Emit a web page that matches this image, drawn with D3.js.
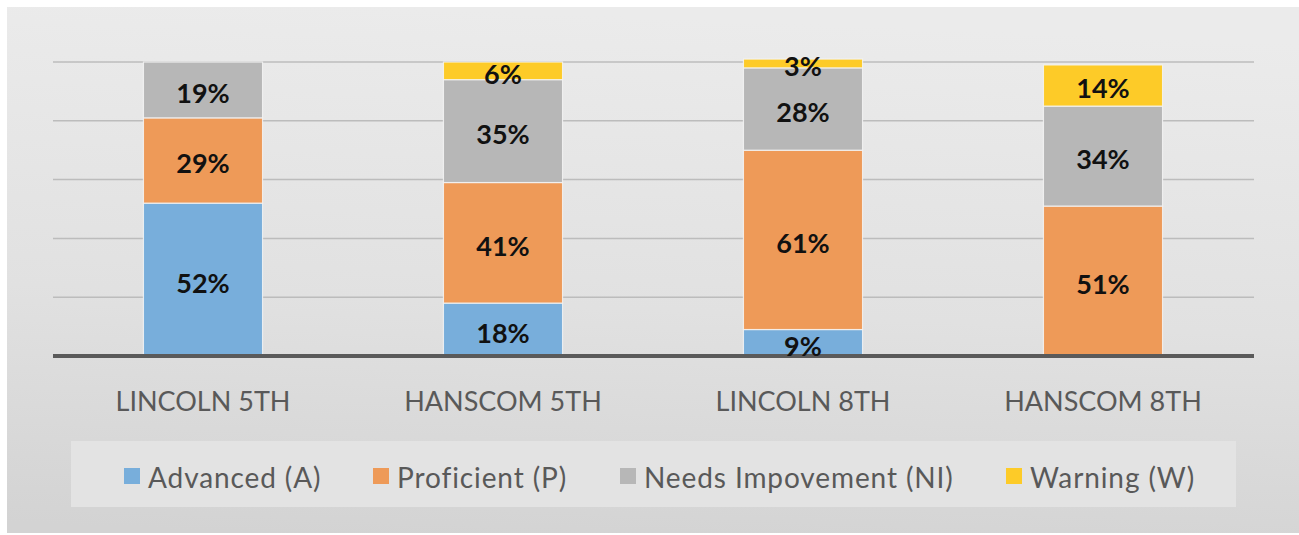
<!DOCTYPE html>
<html>
<head>
<meta charset="utf-8">
<script src="https://cdn.jsdelivr.net/npm/d3@7"></script>
<style>
  html, body { margin: 0; padding: 0; background: #ffffff; }
  svg { display: block; }
</style>
</head>
<body>
<svg id="chart" width="1299" height="535"></svg>
<script>
// ---- data ----
const categories = ["LINCOLN 5TH", "HANSCOM 5TH", "LINCOLN 8TH", "HANSCOM 8TH"];
const seriesNames = ["Advanced (A)", "Proficient (P)", "Needs Impovement (NI)", "Warning (W)"];
const advanced   = [52, 18, 9, 0];
const proficient = [29, 41, 61, 51];
const needsImp   = [19, 35, 28, 34];
const warning    = [0, 6, 3, 14];
const yTicks = [0, 20, 40, 60, 80, 100];

const seriesValues = [advanced, proficient, needsImp, warning];
const colors = ["#78aedb", "#ee9a58", "#b7b7b7", "#fdcb28"];

const W = 1299, H = 535;
const svg = d3.select("#chart");
const defs = svg.append("defs");

const grad = defs.append("linearGradient").attr("id", "bg")
  .attr("x1", "0.3").attr("y1", "0").attr("x2", "0.2").attr("y2", "1");
grad.append("stop").attr("offset", "0").attr("stop-color", "#ebebeb");
grad.append("stop").attr("offset", "0.55").attr("stop-color", "#e1e1e1");
grad.append("stop").attr("offset", "1").attr("stop-color", "#d3d3d3");

svg.append("rect").attr("x", 7).attr("y", 7).attr("width", W - 7).attr("height", H - 9)
  .attr("fill", "url(#bg)");

// ---- scales ----
const x = d3.scaleBand().domain(categories).range([53, 1253])
  .paddingInner(0.603).paddingOuter(0.3015);
const y = d3.scaleLinear().domain([0, 100]).range([356, 62]);

// gridlines
svg.append("g").selectAll("line").data(yTicks.filter(d => d > 0)).join("line")
  .attr("x1", 53).attr("x2", 1254)
  .attr("y1", d => y(d)).attr("y2", d => y(d))
  .attr("stroke", "#bcbcbc").attr("stroke-width", 1.5);

// stacked data
const rows = categories.map((c, i) => {
  const r = { cat: c };
  seriesNames.forEach((s, j) => r[s] = seriesValues[j][i]);
  return r;
});
const stack = d3.stack().keys(seriesNames)(rows);

const layers = svg.append("g").selectAll("g").data(stack).join("g")
  .attr("fill", (d, i) => colors[i]);
layers.selectAll("rect").data(d => d.filter(p => p[1] - p[0] > 0)).join("rect")
  .attr("x", d => x(d.data.cat))
  .attr("width", x.bandwidth())
  .attr("y", d => y(d[1]))
  .attr("height", d => y(d[0]) - y(d[1]))
  .attr("stroke", "#f4f4f4").attr("stroke-opacity", 0.85).attr("stroke-width", 1.2);

// baseline
svg.append("line").attr("x1", 53).attr("x2", 1254)
  .attr("y1", y(0)).attr("y2", y(0))
  .attr("stroke", "#5a5a5a").attr("stroke-width", 4);

// value labels
const labels = svg.append("g")
  .attr("font-family", "Lato, 'Open Sans', sans-serif")
  .attr("font-weight", "bold").attr("font-size", 27).attr("fill", "#111")
  .attr("text-anchor", "middle");
stack.forEach(layer => {
  layer.filter(p => p[1] - p[0] > 0).forEach(p => {
    labels.append("text")
      .attr("x", x(p.data.cat) + x.bandwidth() / 2)
      .attr("y", (y(p[0]) + y(p[1])) / 2)
      .attr("dy", "0.48em")
      .text((p[1] - p[0]) + "%");
  });
});

// x axis labels
const xAxis = d3.axisBottom(x).tickSize(0).tickPadding(0);
const xg = svg.append("g").attr("transform", `translate(0, ${y(0)})`).call(xAxis);
xg.select(".domain").remove();
xg.selectAll("text")
  .attr("font-family", "Lato, 'Open Sans', sans-serif")
  .attr("font-size", 27).attr("fill", "#595959")
  .attr("y", 55).attr("dy", 0);

// legend
svg.append("rect").attr("x", 71).attr("y", 441).attr("width", 1165).attr("height", 66)
  .attr("fill", "#e3e3e3");
const legendX = [124, 373, 620, 1006];
const lg = svg.append("g").selectAll("g").data(seriesNames).join("g")
  .attr("transform", (d, i) => `translate(${legendX[i]}, 468)`);
lg.append("rect").attr("width", 16).attr("height", 16).attr("fill", (d, i) => colors[i]);
lg.append("text").attr("x", 24).attr("y", 10).attr("dy", "0.36em")
  .attr("font-family", "Lato, 'Open Sans', sans-serif")
  .attr("font-size", 28).attr("letter-spacing", 0.9).attr("fill", "#595959")
  .text(d => d);
</script>
</body>
</html>
